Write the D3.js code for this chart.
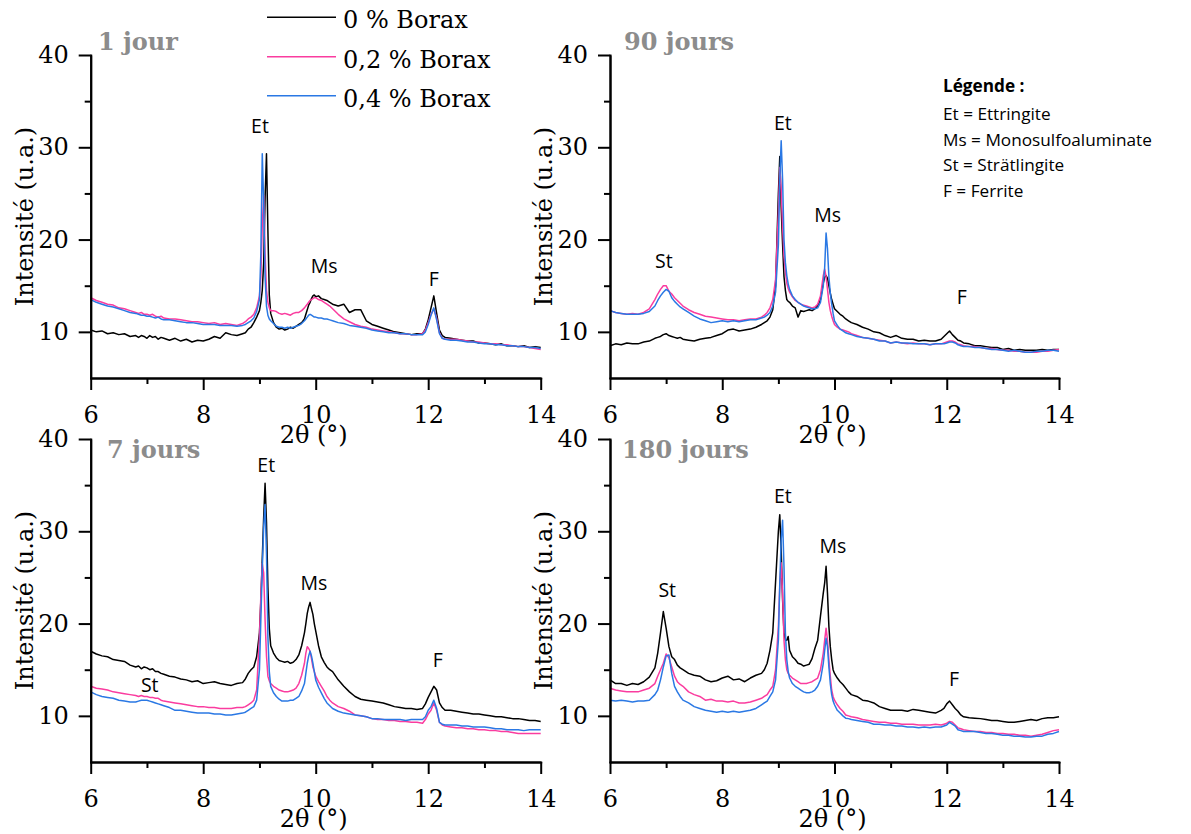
<!DOCTYPE html>
<html>
<head>
<meta charset="utf-8">
<script src="https://cdn.jsdelivr.net/npm/d3@7"></script>
<style>
  html, body { margin: 0; padding: 0; background: #fff; }
  svg { display: block; }
</style>
</head>
<body>
<svg id="chart" width="1191" height="834"></svg>
<script>
// ---------- DATA ----------
// 2θ grid (°) shared by all patterns
const twoTheta = [
  6.0,6.1,6.2,6.3,6.4,6.5,6.6,6.7,6.8,
  6.85,6.9,6.95,7.0,7.05,7.1,7.15,7.2,7.25,7.3,
  7.4,7.5,7.6,7.7,7.8,7.9,8.0,8.1,8.2,8.3,8.4,8.5,8.6,8.7,
  8.75,8.8,8.85,8.9,8.95,9.0,
  9.025,9.05,9.075,9.1,9.125,9.15,9.175,9.2,
  9.25,9.3,9.35,9.4,9.45,9.5,9.55,9.6,9.65,9.7,9.75,
  9.8,9.825,9.85,9.875,9.9,9.925,9.95,9.975,10.0,
  10.05,10.1,10.15,10.2,10.25,10.3,
  10.4,10.5,10.6,10.7,10.8,10.9,11.0,11.1,11.2,11.3,11.4,11.5,11.6,11.7,11.8,11.9,
  11.95,12.0,12.05,12.1,12.15,12.2,12.25,12.3,
  12.4,12.5,12.6,12.7,12.8,12.9,13.0,13.1,13.2,13.3,13.4,13.5,13.6,13.7,13.8,13.9,14.0
];

const seriesNames = ["0 % Borax", "0,2 % Borax", "0,4 % Borax"];
const seriesColors = ["#000000", "#fa3c9f", "#2a78e4"];

// ---- 1 jour ----
const jour1_b0 = [
  10.2,10.0,10.1,9.8,9.9,9.7,9.8,9.5,9.6,
  9.4,9.6,9.5,9.3,9.6,9.4,9.5,9.2,9.4,9.3,
  9.1,9.3,9.0,9.2,8.9,9.1,9.0,9.2,9.5,9.3,9.9,9.7,9.6,9.8,
  9.9,10.3,10.5,11.0,11.6,12.3,
  13.2,14.5,17.5,24.5,29.3,21.0,14.0,12.0,
  11.0,10.5,10.3,10.4,10.2,10.3,10.5,10.4,10.6,10.8,11.0,
  11.4,11.9,12.4,12.9,13.2,13.6,13.9,14.0,13.8,
  13.9,13.6,13.5,13.4,13.2,13.0,
  12.8,13.0,12.1,12.4,12.4,11.2,10.8,10.6,10.4,10.2,10.0,9.9,9.8,9.7,9.8,9.8,
  10.3,11.3,12.6,13.9,12.0,10.2,9.6,9.4,
  9.3,9.2,9.1,9.0,9.0,8.8,8.8,8.7,8.6,8.7,8.5,8.5,8.4,8.5,8.3,8.4,8.3
];
const jour1_b2 = [
  13.7,13.4,13.2,13.0,12.9,12.6,12.5,12.3,12.1,
  12.0,12.1,11.9,11.9,11.8,11.9,11.7,11.6,11.7,11.5,
  11.4,11.4,11.3,11.2,11.1,11.1,11.0,10.9,11.0,10.8,10.9,10.8,10.7,10.9,
  11.1,11.4,11.6,11.9,12.6,13.9,
  16.0,21.5,24.8,18.5,14.5,13.2,12.6,12.3,
  12.3,12.2,12.0,11.9,12.0,11.9,11.8,12.0,12.1,12.1,12.3,
  12.6,12.8,13.0,13.2,13.4,13.5,13.6,13.7,13.7,
  13.5,13.4,13.2,13.0,12.8,12.5,
  11.9,11.4,11.1,10.8,10.6,10.5,10.3,10.2,10.1,10.0,9.9,9.8,9.8,9.7,9.7,9.8,
  10.2,11.0,11.9,12.5,11.5,9.9,9.3,9.2,
  9.2,9.2,9.1,9.0,8.9,8.9,8.8,8.7,8.7,8.6,8.6,8.5,8.4,8.4,8.3,8.2,8.1
];
const jour1_b4 = [
  13.5,13.2,13.0,12.8,12.7,12.5,12.3,12.1,12.0,
  11.9,11.8,11.8,11.7,11.7,11.6,11.5,11.6,11.4,11.3,
  11.3,11.2,11.1,11.0,11.0,10.9,10.8,10.8,10.8,10.7,10.7,10.7,10.6,10.7,
  10.8,11.0,11.2,11.5,12.2,13.5,
  18.5,29.3,24.0,16.0,12.8,11.8,11.4,11.2,
  10.9,10.6,10.5,10.5,10.4,10.5,10.4,10.5,10.6,10.7,10.9,
  11.2,11.4,11.6,11.8,11.9,11.8,11.7,11.6,11.6,
  11.5,11.5,11.4,11.4,11.3,11.2,
  11.0,10.9,10.7,10.6,10.5,10.4,10.2,10.1,10.0,9.9,9.9,9.8,9.8,9.7,9.7,9.7,
  10.0,10.8,11.8,12.6,11.3,9.8,9.3,9.2,
  9.1,9.1,9.0,8.9,8.9,8.8,8.7,8.7,8.6,8.6,8.5,8.5,8.4,8.4,8.3,8.3,8.2
];

// ---- 90 jours ----
const jour90_b0 = [
  8.5,8.7,8.6,8.8,8.7,8.7,8.9,9.0,9.3,
  9.4,9.5,9.7,9.8,9.6,9.5,9.4,9.3,9.4,9.2,
  9.1,9.0,9.2,9.3,9.4,9.6,9.8,10.2,10.3,10.1,10.2,10.3,10.5,10.8,
  11.0,11.2,11.6,12.4,15.0,25.0,
  29.0,23.5,19.5,16.0,14.5,13.5,13.3,13.2,
  12.8,12.6,11.6,12.3,12.2,12.3,12.4,12.3,12.5,12.8,13.5,
  15.3,15.9,16.1,15.8,15.0,14.2,13.5,13.0,12.5,
  12.2,11.9,11.7,11.4,11.2,11.0,
  10.8,10.5,10.3,10.0,9.9,9.6,9.4,9.6,9.3,9.2,9.2,9.0,9.1,9.0,9.0,9.2,
  9.5,9.8,10.1,9.7,9.4,9.1,9.0,8.8,
  8.7,8.5,8.5,8.4,8.3,8.3,8.1,8.2,8.0,8.1,8.0,8.0,8.0,8.1,8.0,8.1,8.1
];
const jour90_b2 = [
  12.3,12.1,12.0,11.9,12.0,11.9,12.1,12.5,13.5,
  14.1,14.6,15.0,15.0,14.4,14.1,13.7,13.4,13.1,12.8,
  12.4,12.1,11.9,11.7,11.6,11.5,11.4,11.3,11.3,11.2,11.3,11.4,11.4,11.6,
  11.8,12.1,12.6,13.5,15.7,22.9,
  27.8,25.4,21.5,18.2,16.5,15.3,14.7,14.3,
  13.8,13.4,13.2,13.0,12.9,12.8,12.7,12.6,12.7,13.0,13.9,
  16.1,16.8,16.0,14.6,13.2,12.3,11.7,11.2,10.8,
  10.5,10.3,10.2,10.1,10.0,9.8,
  9.6,9.4,9.3,9.2,9.1,9.0,8.8,8.9,8.8,8.7,8.8,8.7,8.7,8.6,8.7,8.7,
  8.8,8.9,9.0,9.0,8.9,8.7,8.6,8.5,
  8.4,8.4,8.3,8.2,8.2,8.1,8.0,8.0,7.9,7.9,7.8,7.8,7.8,7.9,7.9,8.0,8.1
];
const jour90_b4 = [
  12.3,12.1,12.0,11.9,11.9,11.9,12.0,12.2,12.8,
  13.4,13.9,14.3,14.6,14.4,13.7,13.3,13.0,12.7,12.5,
  12.1,11.7,11.4,11.2,11.0,11.1,11.2,11.1,11.2,11.1,11.2,11.3,11.3,11.5,
  11.6,11.8,12.1,12.8,14.3,19.4,
  26.5,30.7,26.5,20.0,17.5,16.1,15.2,14.6,
  13.9,13.5,13.2,13.0,12.8,12.7,12.6,12.5,12.5,12.6,13.2,
  15.0,17.0,20.7,19.0,16.0,14.2,13.0,12.0,11.2,
  10.7,10.3,10.1,9.9,9.8,9.7,
  9.5,9.4,9.3,9.2,9.0,9.0,8.8,8.9,8.8,8.8,8.7,8.7,8.7,8.6,8.7,8.7,
  8.7,8.8,8.9,8.9,8.8,8.6,8.5,8.4,
  8.4,8.3,8.3,8.2,8.1,8.1,8.0,7.9,8.0,7.9,7.8,7.8,7.9,7.9,8.0,8.0,7.9
];

// ---- 7 jours ----
const jour7_b0 = [
  17.0,16.7,16.5,16.4,16.1,16.0,15.9,15.5,15.3,
  15.4,15.1,15.3,15.2,15.0,15.1,14.8,14.8,14.6,14.5,
  14.3,14.2,14.0,13.9,13.7,13.8,13.5,13.6,13.7,13.5,13.4,13.3,13.5,13.6,
  14.0,14.6,15.0,15.3,16.4,19.0,
  22.5,27.0,31.5,35.2,31.0,24.0,19.5,17.6,
  16.8,16.3,16.0,15.9,15.8,15.9,15.7,15.8,16.1,16.6,17.6,
  19.0,20.0,21.1,21.8,22.3,21.6,21.0,20.0,19.2,
  17.6,16.4,15.8,15.3,15.0,14.8,
  13.9,13.2,12.6,12.1,11.8,11.7,11.6,11.5,11.4,11.2,11.0,10.9,10.8,10.8,10.7,10.8,
  11.3,12.0,12.6,13.2,12.8,11.4,10.9,10.6,
  10.6,10.5,10.4,10.3,10.2,10.2,10.1,10.0,9.9,9.9,9.8,9.7,9.7,9.6,9.5,9.5,9.4
];
const jour7_b2 = [
  13.2,13.0,12.9,12.8,12.6,12.5,12.4,12.3,12.2,
  12.1,12.2,12.1,12.1,12.0,12.0,11.9,11.9,11.7,11.6,
  11.5,11.4,11.3,11.2,11.1,11.0,11.0,10.9,10.9,10.8,10.8,10.8,10.9,10.9,
  11.0,11.2,11.4,11.7,12.8,18.6,
  23.0,26.5,25.5,20.4,16.5,14.3,13.8,13.5,
  13.2,13.0,12.8,12.7,12.6,12.6,12.7,12.8,13.0,13.5,14.4,
  15.7,16.8,17.5,17.3,17.0,16.2,15.3,14.8,14.3,
  13.7,13.2,12.7,12.1,11.7,11.4,
  11.0,10.8,10.5,10.1,10.0,9.9,9.7,9.6,9.6,9.5,9.5,9.4,9.4,9.3,9.3,9.2,
  9.6,10.2,10.6,11.4,10.6,9.3,9.0,8.9,
  8.8,8.7,8.7,8.6,8.6,8.5,8.5,8.4,8.4,8.3,8.3,8.2,8.1,8.1,8.1,8.1,8.1
];
const jour7_b4 = [
  12.6,12.3,12.1,12.0,11.9,11.7,11.6,11.5,11.5,
  11.6,11.7,11.7,11.7,11.6,11.5,11.4,11.3,11.2,11.1,
  10.9,10.6,10.6,10.5,10.4,10.3,10.3,10.3,10.2,10.2,10.1,10.1,10.2,10.3,
  10.4,10.6,10.8,11.0,11.7,15.0,
  20.5,25.8,30.5,32.9,27.6,18.6,14.8,13.2,
  12.5,12.1,11.8,11.6,11.6,11.6,11.7,11.7,11.9,12.1,12.7,
  13.5,14.6,15.7,16.5,17.0,16.5,15.7,14.8,13.9,
  13.1,12.5,11.9,11.4,11.1,10.8,
  10.5,10.3,10.2,10.1,10.0,9.9,9.7,9.7,9.6,9.6,9.6,9.6,9.5,9.6,9.6,9.6,
  9.9,10.6,11.0,11.7,10.8,9.3,9.1,9.0,
  9.0,9.0,8.9,8.9,8.8,8.8,8.8,8.7,8.6,8.6,8.5,8.5,8.5,8.4,8.5,8.5,8.5
];

// ---- 180 jours ----
const jour180_b0 = [
  13.9,13.5,13.5,13.3,13.5,13.4,13.7,14.2,15.2,
  16.8,19.0,21.3,19.5,17.5,16.4,16.1,15.5,15.2,15.0,
  14.6,14.4,14.3,13.9,13.7,13.8,14.1,14.3,13.9,14.0,13.7,14.1,14.4,14.6,
  15.0,15.7,17.1,19.0,24.5,30.0,
  31.8,28.0,22.6,19.0,18.2,18.2,18.6,17.1,
  16.4,16.1,15.7,15.6,15.4,15.5,15.6,16.2,17.3,18.2,20.8,
  23.3,24.4,26.2,23.3,19.7,17.5,16.1,15.0,14.6,
  14.1,13.7,13.4,13.0,12.6,12.3,
  12.1,11.7,11.6,11.4,11.0,10.8,10.6,10.6,10.6,10.5,10.7,10.6,10.5,10.4,10.3,10.6,
  10.8,11.3,11.6,11.2,10.8,10.5,10.1,9.9,
  9.8,9.75,9.7,9.6,9.5,9.5,9.4,9.3,9.3,9.4,9.5,9.6,9.5,9.7,9.8,9.8,9.9
];
const jour180_b2 = [
  13.0,12.8,12.7,12.6,12.6,12.6,12.8,13.0,13.5,
  14.3,15.0,15.7,16.7,16.3,15.3,14.3,13.7,13.4,13.2,
  12.6,12.3,12.1,11.7,11.8,11.6,11.6,11.5,11.6,11.4,11.4,11.5,11.7,11.9,
  12.1,12.3,12.8,13.2,15.0,19.7,
  24.0,26.6,23.3,18.2,16.1,15.0,14.6,14.4,
  14.1,13.9,13.7,13.5,13.5,13.5,13.6,13.7,13.9,14.1,15.0,
  16.8,18.2,19.5,18.2,16.1,14.3,12.8,12.1,11.7,
  11.2,10.8,10.5,10.1,10.0,9.9,
  9.8,9.6,9.5,9.4,9.3,9.3,9.2,9.2,9.1,9.1,9.1,9.0,9.0,9.0,9.1,9.0,
  9.1,9.2,9.4,9.3,9.0,8.7,8.6,8.5,
  8.4,8.3,8.3,8.2,8.2,8.1,8.1,8.0,8.0,7.9,7.9,7.8,7.9,8.0,8.2,8.4,8.5
];
const jour180_b4 = [
  11.7,11.6,11.7,11.6,11.5,11.6,11.6,11.7,12.3,
  12.8,13.9,15.3,16.5,16.6,14.6,13.2,12.6,12.1,11.7,
  11.4,11.0,10.8,10.6,10.5,10.4,10.5,10.4,10.5,10.4,10.5,10.6,10.8,11.2,
  11.4,11.6,12.1,12.6,13.9,18.2,
  24.4,29.1,31.2,26.2,19.0,16.1,14.8,14.1,
  13.5,13.2,13.0,12.8,12.6,12.5,12.5,12.6,12.8,13.2,13.9,
  15.7,17.1,18.4,17.5,15.3,13.5,12.3,11.6,11.2,
  10.6,10.3,10.0,9.75,9.7,9.6,
  9.5,9.4,9.3,9.1,9.1,9.0,9.0,8.9,8.9,8.8,8.8,8.7,8.8,8.7,8.8,8.8,
  8.9,9.0,9.3,9.1,8.9,8.5,8.4,8.3,
  8.3,8.3,8.2,8.1,8.1,8.0,7.9,7.9,7.8,7.8,7.7,7.7,7.8,7.8,8.0,8.1,8.3
];

// Axis ticks
const xMajorTicks = [6, 8, 10, 12, 14];
const xMinorTicks = [7, 9, 11, 13];
const yMajorTicks = [10, 20, 30, 40];
const yMinorTicks = [15, 25, 35];

// Peak labels: [text, 2θ, intensity]
const peaks1 = [["Et", 9.01, 31.6], ["Ms", 10.15, 16.4], ["F", 12.10, 15.0]];
const peaks90 = [["St", 6.96, 16.9], ["Et", 9.08, 31.9], ["Ms", 9.88, 21.9], ["F", 12.27, 13.0]];
const peaks7 = [["Et", 9.12, 36.4], ["Ms", 9.97, 23.6], ["F", 12.17, 15.3], ["St", 7.05, 12.6]];
const peaks180 = [["St", 7.02, 22.9], ["Et", 9.08, 33.1], ["Ms", 9.97, 27.7], ["F", 12.13, 13.2]];

const legendPhases = ["Et = Ettringite", "Ms = Monosulfoaluminate", "St = Strätlingite", "F = Ferrite"];

// ---------- LAYOUT ----------
const SERIF = "'DejaVu Serif', serif";
const SANS = "'Open Sans', 'Noto Sans', sans-serif";

const panels = [
  { title: "1 jour",    data: [jour1_b0, jour1_b2, jour1_b4],       peaks: peaks1,   x0: 90.7, x1: 540.7, yTop: 55,  yBot: 378, tx: 98,  ty: 50 },
  { title: "90 jours",  data: [jour90_b0, jour90_b2, jour90_b4],    peaks: peaks90,  x0: 610,  x1: 1059,  yTop: 55,  yBot: 378, tx: 624, ty: 50 },
  { title: "7 jours",   data: [jour7_b0, jour7_b2, jour7_b4],       peaks: peaks7,   x0: 90.7, x1: 540.7, yTop: 439, yBot: 762, tx: 107, ty: 458 },
  { title: "180 jours", data: [jour180_b0, jour180_b2, jour180_b4], peaks: peaks180, x0: 610,  x1: 1059,  yTop: 439, yBot: 762, tx: 622, ty: 458 }
];

const svg = d3.select("#chart");
svg.append("rect").attr("width", 1191).attr("height", 834).attr("fill", "#fff");

panels.forEach(p => {
  const x = d3.scaleLinear().domain([6, 14]).range([p.x0, p.x1]);
  const y = d3.scaleLinear().domain([5, 40]).range([p.yBot, p.yTop]);
  const g = svg.append("g");

  // data lines
  const line = d3.line().x((d, i) => x(twoTheta[i])).y(d => y(d));
  p.data.forEach((vals, k) => {
    g.append("path")
      .datum(vals.slice(0, twoTheta.length))
      .attr("d", line)
      .attr("fill", "none")
      .attr("stroke", seriesColors[k])
      .attr("stroke-width", 1.5)
      .attr("stroke-linejoin", "round");
  });

  // axes
  const styleAxis = sel => {
    sel.selectAll("path, line").attr("stroke", "#000").attr("stroke-width", 2);
    sel.selectAll("text").attr("font-family", SERIF).attr("font-size", 24).attr("fill", "#000");
  };
  g.append("g").attr("transform", `translate(0,${p.yBot})`)
    .call(d3.axisBottom(x).tickValues(xMinorTicks).tickSize(6).tickSizeOuter(0).tickFormat(""))
    .call(styleAxis);
  g.append("g").attr("transform", `translate(${p.x0},0)`)
    .call(d3.axisLeft(y).tickValues(yMinorTicks).tickSize(6).tickSizeOuter(0).tickFormat(""))
    .call(styleAxis);
  const xa = g.append("g").attr("transform", `translate(0,${p.yBot})`)
    .call(d3.axisBottom(x).tickValues(xMajorTicks).tickSize(12).tickSizeOuter(0).tickPadding(16).tickFormat(d3.format("d")))
    .call(styleAxis);
  const ya = g.append("g").attr("transform", `translate(${p.x0},0)`)
    .call(d3.axisLeft(y).tickValues(yMajorTicks).tickSize(12).tickSizeOuter(0).tickPadding(10).tickFormat(d3.format("d")))
    .call(styleAxis);
  xa.select(".domain").attr("stroke-linecap", "square");
  ya.select(".domain").attr("stroke-linecap", "square");

  // axis titles
  g.append("text")
    .attr("x", (p.x0 + p.x1) / 2 - 2).attr("y", p.yBot + 65)
    .attr("text-anchor", "middle")
    .attr("font-family", SERIF).attr("font-size", 24)
    .text("2θ (°)");
  g.append("text")
    .attr("transform", `translate(${p.x0 - 58},${(p.yTop + p.yBot) / 2}) rotate(-90)`)
    .attr("text-anchor", "middle")
    .attr("font-family", SERIF).attr("font-size", 24)
    .text("Intensité (u.a.)");

  // panel title
  g.append("text")
    .attr("x", p.tx).attr("y", p.ty)
    .attr("font-family", SERIF).attr("font-size", 24).attr("font-weight", "bold")
    .attr("fill", "#8c8c8c")
    .text(p.title);

  // peak labels
  g.selectAll("text.peak").data(p.peaks).enter().append("text")
    .attr("class", "peak")
    .attr("x", d => x(d[1])).attr("y", d => y(d[2]))
    .attr("text-anchor", "middle")
    .attr("font-family", SANS).attr("font-size", 19.5)
    .text(d => d[0]);
});

// series legend (top-left)
const leg = svg.append("g");
const legY = [17.3, 56.7, 95.7];
seriesNames.forEach((name, k) => {
  leg.append("line")
    .attr("x1", 267).attr("x2", 336).attr("y1", legY[k]).attr("y2", legY[k])
    .attr("stroke", seriesColors[k]).attr("stroke-width", 1.6);
  leg.append("text")
    .attr("x", 343).attr("y", legY[k] + 11)
    .attr("font-family", SERIF).attr("font-size", 24)
    .text(name);
});

// phase legend (top-right)
const pl = svg.append("g").attr("font-family", SANS).attr("font-size", 17.2);
pl.append("text").attr("x", 943).attr("y", 92).attr("font-weight", "bold").text("Légende :");
legendPhases.forEach((t, i) => {
  pl.append("text").attr("x", 943).attr("y", 120 + i * 25.6).text(t);
});
</script>
</body>
</html>
